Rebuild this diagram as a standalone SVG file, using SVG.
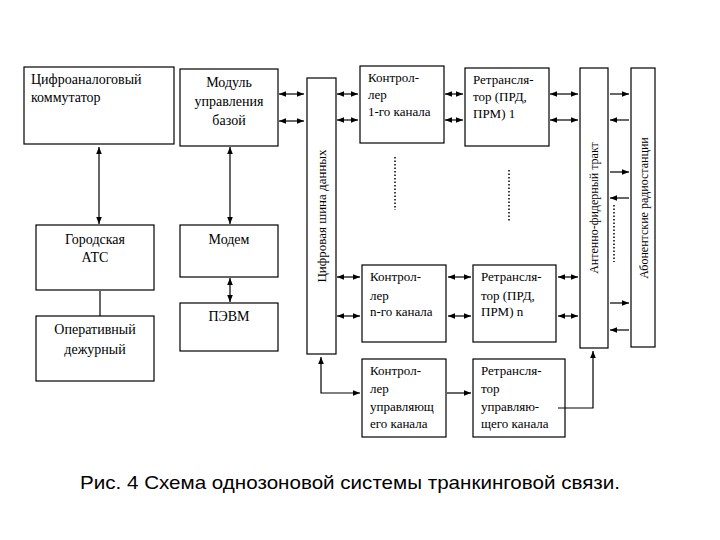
<svg xmlns="http://www.w3.org/2000/svg" width="720" height="540" viewBox="0 0 720 540">
<defs>
<marker id="a" viewBox="0 0 10 10" refX="10" refY="5" markerWidth="7" markerHeight="7" orient="auto-start-reverse" markerUnits="userSpaceOnUse"><path d="M0,1 L10,5 L0,9 z" fill="#000"/></marker>
<style>
rect{fill:#fff;stroke:#000;stroke-width:1.2}
text{font-family:'Liberation Serif','Times New Roman','DejaVu Serif',serif;font-size:13px;fill:#000}
.c{text-anchor:middle}
.l{stroke:#000;stroke-width:1.2;fill:none}
.b{marker-start:url(#a);marker-end:url(#a)}
.e{marker-end:url(#a)}
.d{stroke:#000;stroke-width:1.5;stroke-dasharray:1.5 2;fill:none}
</style>
</defs>
<rect x="0" y="0" width="720" height="540" style="stroke:none"/>
<g id="n1"><rect x="24" y="67" width="150" height="77"/><text x="31" y="84" style="font-size:14px">Цифроаналоговый</text><text x="31" y="102" style="font-size:14px">коммутатор</text></g>
<g id="n2"><rect x="180" y="69" width="98" height="77"/><text class="c" x="229" y="87" style="font-size:14px">Модуль</text><text class="c" x="229" y="106" style="font-size:14px">управления</text><text class="c" x="229" y="125" style="font-size:14px">базой</text></g>
<g id="n3"><rect x="36" y="225" width="118" height="65"/><text class="c" x="95" y="244" style="font-size:14px">Городская</text><text class="c" x="95" y="262" style="font-size:14px">АТС</text></g>
<g id="n4"><rect x="36" y="316" width="118" height="65"/><text class="c" x="95" y="334" style="font-size:14px">Оперативный</text><text class="c" x="95" y="354" style="font-size:14px">дежурный</text></g>
<g id="n5"><rect x="180" y="225" width="98" height="52"/><text class="c" x="229" y="244" style="font-size:14px">Модем</text></g>
<g id="n6"><rect x="180" y="303" width="98" height="48"/><text class="c" x="229" y="321" style="font-size:14px">ПЭВМ</text></g>
<g id="n7"><rect x="307" y="78" width="29" height="276"/><text class="c" transform="translate(326,216) rotate(-90)">Цифровая шина  данных</text></g>
<g id="n8"><rect x="360" y="66" width="84" height="77"/><text x="368" y="82">Контрол-</text><text x="368" y="99">лер</text><text x="368" y="116">1-го канала</text></g>
<g id="n9"><rect x="465" y="68" width="84" height="78"/><text x="473" y="84">Ретрансля-</text><text x="473" y="101">тор (ПРД,</text><text x="473" y="118">ПРМ) 1</text></g>
<g id="n10"><rect x="362" y="265" width="84" height="77"/><text x="370" y="281">Контрол-</text><text x="370" y="300">лер</text><text x="370" y="316">n-го канала</text></g>
<g id="n11"><rect x="473" y="265" width="83" height="77"/><text x="481" y="281">Ретрансля-</text><text x="481" y="300">тор (ПРД,</text><text x="481" y="316">ПРМ)  n</text></g>
<g id="n12"><rect x="362" y="359" width="84" height="78"/><text x="370" y="375">Контрол-</text><text x="370" y="393">лер</text><text x="370" y="411">управляющ</text><text x="370" y="428">его канала</text></g>
<g id="n13"><rect x="473" y="359" width="92" height="78"/><text x="481" y="375">Ретрансля-</text><text x="481" y="393">тор</text><text x="481" y="411">управляю-</text><text x="481" y="428">щего канала</text></g>
<g id="n14"><rect x="580" y="68" width="28" height="280"/><text class="c" transform="translate(598,208) rotate(-90)" style="font-size:12px">Антенно-фидерный тракт</text></g>
<g id="n15"><rect x="631" y="68" width="24" height="279"/><text class="c" transform="translate(648,208) rotate(-90)" style="font-size:12px">Абонентские радиостанции</text></g>
<g id="connectors">
<path class="l b" d="M99,147 V224"/>
<path class="l" d="M100,291 V316"/>
<path class="l b" d="M230,147 V224"/>
<path class="l b" d="M230,278 V302"/>
<path class="l b" d="M279,94 H304"/><path class="l b" d="M279,121 H304"/>
<path class="l b" d="M337,94 H358"/><path class="l b" d="M337,120 H358"/>
<path class="l b" d="M445,94 H463"/><path class="l b" d="M445,120 H463"/>
<path class="l b" d="M550,94 H578"/><path class="l b" d="M550,120 H578"/>
<path class="l b" d="M337,277 H360"/><path class="l b" d="M337,316 H360"/>
<path class="l b" d="M448,277 H471"/><path class="l b" d="M448,316 H471"/>
<path class="l b" d="M558,277 H578"/><path class="l b" d="M558,316 H578"/>
<path class="l e" d="M610,94 H629"/><path class="l e" d="M629,120 H610"/>
<path class="l e" d="M610,172 H629"/><path class="l e" d="M629,198 H610"/>
<path class="l e" d="M610,303 H629"/><path class="l e" d="M629,330 H610"/>
<path class="l b" d="M360,393 H321 V357"/>
<path class="l e" d="M447,393 H471"/>
<path class="l e" d="M558,408 H593 V351"/>
<path class="d" d="M395,157 V210"/><path class="d" d="M509,170 V222"/><path class="d" d="M614,205 V262"/>
</g>
<text x="80" y="489" textLength="540" lengthAdjust="spacingAndGlyphs" style="font-family:'Liberation Sans',Arial,sans-serif;font-size:19px">Рис. 4  Схема однозоновой системы транкинговой связи.</text>
</svg>
